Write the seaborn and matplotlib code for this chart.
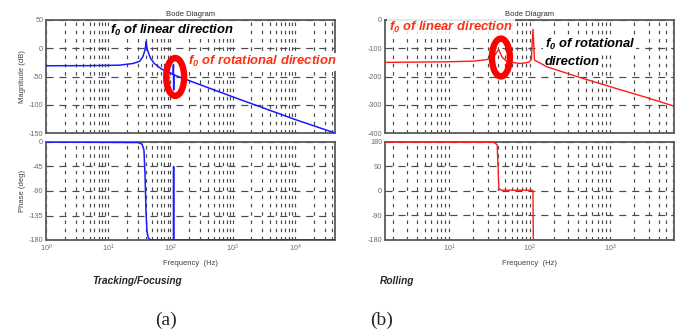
import numpy as np
import matplotlib
matplotlib.use("Agg")
import matplotlib.pyplot as plt
from matplotlib.patches import Ellipse
from matplotlib.ticker import LogLocator, NullFormatter, FixedLocator
import seaborn as sns

# ---- Tracking/Focusing actuator response ----
tf_freq = [1, 5, 15, 25, 32, 36, 38.5, 39.8, 40.8, 42, 44.5, 48, 55, 70, 90,
           110.5, 111.5, 112.5, 113.5, 140, 1000, 10000, 44000]
tf_mag = [-31, -30.8, -30, -27, -23, -15, -5, 3, 12, 0, -9, -18, -27, -36, -42,
          -46, -29, -74, -47, -51, -86, -126, -150]
tf_phase_freq = [1, 30, 35, 37.5, 39, 40.5, 42, 44, 48, 111.7, 112.3, 112.9, 44000]
tf_phase = [0, -1, -4, -15, -60, -130, -165, -176, -180, -180, -45, -180, -180]

# ---- Rolling response ----
rl_freq = [1.6, 9.4, 20.3, 29.6, 35.8, 41.2, 45.5, 52.5, 76.7, 97, 105, 110,
           115, 165, 427, 1112, 2880, 6200]
rl_mag = [-150, -148, -145.5, -140, -130, -104, -132, -148, -154, -150, -140, -33,
          -142, -166, -204, -240, -275, -305]
rl_phase_freq = [1.6, 36, 39.5, 40.5, 41.5, 44, 108, 110, 111, 112, 6200]
rl_phase = [180, 179, 170, 90, 10, 3, 3, 0, -170, -180, -180]

mag_ticks_a = [50, 0, -50, -100, -150]
phase_ticks_a = [0, -45, -90, -135, -180]
mag_ticks_b = [0, -100, -200, -300, -400]
phase_ticks_b = [180, 90, 0, -90, -180]

sns.set_theme(style="white")
plt.rcParams["font.family"] = ["Liberation Sans", "DejaVu Sans"]
plt.rcParams["axes.unicode_minus"] = False
plt.rcParams["mathtext.fontset"] = "custom"
plt.rcParams["mathtext.it"] = "Liberation Sans:bold:italic"
plt.rcParams["mathtext.rm"] = "Liberation Sans:bold:italic"
plt.rcParams["mathtext.bf"] = "Liberation Sans:bold:italic"

W, H = 694, 333
fig = plt.figure(figsize=(W / 100, H / 100), dpi=100)


def box(x0, y0, x1, y1):
    return [x0 / W, 1 - y1 / H, (x1 - x0) / W, (y1 - y0) / H]


GRID_C = "#4a4a4a"
SPINE_C = "#5a5a5a"
TICK_C = "#6a6a6a"


def style_axes(ax, xlim, ylim, yticks, show_xlabels):
    ax.set_xscale("log")
    ax.set_xlim(*xlim)
    ax.set_ylim(*ylim)
    ax.yaxis.set_major_locator(FixedLocator(yticks))
    ax.xaxis.set_major_locator(LogLocator(base=10, numticks=10))
    ax.xaxis.set_minor_locator(LogLocator(base=10, subs=np.arange(2, 10), numticks=20))
    ax.xaxis.set_minor_formatter(NullFormatter())
    if not show_xlabels:
        ax.xaxis.set_major_formatter(NullFormatter())
    ax.grid(False)
    ax.grid(True, which="major", axis="y", color=GRID_C, lw=0.85, ls=(0, (6, 5)))
    ax.grid(True, which="both", axis="x", color=GRID_C, lw=0.85, ls=(0, (3, 4)))
    ax.tick_params(axis="both", which="both", length=0, labelsize=5.2, colors=TICK_C, pad=2)
    for s in ax.spines.values():
        s.set_color(SPINE_C)
        s.set_linewidth(1.3)
        s.set_visible(True)
    ax.set_xlabel("")
    ax.set_ylabel("")


# Left: tracking/focusing
ax_am = fig.add_axes(box(46, 20, 335, 133))
ax_ap = fig.add_axes(box(46, 142, 335, 240))
# Right: rolling
ax_bm = fig.add_axes(box(385, 20, 674, 133))
ax_bp = fig.add_axes(box(385, 142, 674, 240))

BLUE = "#1a1aff"
RED = "#ff1a1a"

line_kw = dict(estimator=None, sort=False, zorder=5.5)
sns.lineplot(x=tf_freq, y=tf_mag, ax=ax_am, color=BLUE, lw=1.1, **line_kw)
sns.lineplot(x=tf_phase_freq, y=tf_phase, ax=ax_ap, color=BLUE, lw=1.1, **line_kw)
sns.lineplot(x=rl_freq, y=rl_mag, ax=ax_bm, color=RED, lw=1.0, **line_kw)
sns.lineplot(x=rl_phase_freq, y=rl_phase, ax=ax_bp, color=RED, lw=1.0, **line_kw)

style_axes(ax_am, (1, 44000), (-150, 50), mag_ticks_a, False)
style_axes(ax_ap, (1, 44000), (-180, 0), phase_ticks_a, True)
style_axes(ax_bm, (1.6, 6200), (-400, 0), mag_ticks_b, False)
style_axes(ax_bp, (1.6, 6200), (-180, 180), phase_ticks_b, True)

for ax in (ax_am, ax_bm):
    ax.set_title("Bode Diagram", fontsize=5.5, color="#303030", pad=3)
for ax in (ax_ap, ax_bp):
    ax.set_xlabel("Frequency  (Hz)", fontsize=5.5, color="#404040", labelpad=4)

ax_am.set_ylabel("Magnitude (dB)", fontsize=5.5, color="#404040", labelpad=2)
ax_ap.set_ylabel("Phase (deg)", fontsize=5.5, color="#404040", labelpad=2)

# Highlight rings around the rotational / linear resonances
ring_kw = dict(fill=False, ec="#ff0000", lw=4.6, zorder=6)
ax_am.add_patch(Ellipse((0.447, 0.496), 0.062, 0.335, transform=ax_am.transAxes, **ring_kw))
ax_bm.add_patch(Ellipse((0.401, 0.668), 0.062, 0.335, transform=ax_bm.transAxes, **ring_kw))

note_kw = dict(fontsize=9.4, fontweight="bold", style="italic", zorder=5)
white_bg = dict(fc="white", ec="none", pad=0.8)
ax_am.text(0.222, 0.905, r"$f_0$ of linear direction", transform=ax_am.transAxes,
           color="black", ha="left", va="center", bbox=white_bg, **note_kw)
ax_am.text(0.492, 0.63, r"$f_0$ of rotational direction", transform=ax_am.transAxes,
           color="#ff3010", ha="left", va="center", bbox=white_bg, **note_kw)
ax_bm.text(0.015, 0.935, r"$f_0$ of linear direction", transform=ax_bm.transAxes,
           color="#ff3010", ha="left", va="center",
           bbox=dict(fc="white", ec="none", alpha=0.85, pad=1.5), **note_kw)
ax_bm.text(0.552, 0.785, r"$f_0$ of rotational", transform=ax_bm.transAxes,
           color="black", ha="left", va="center", bbox=white_bg, **note_kw)
ax_bm.text(0.552, 0.63, "direction", transform=ax_bm.transAxes,
           color="black", ha="left", va="center", bbox=white_bg, **note_kw)

fig.text(137 / W, 1 - 281 / H, "Tracking/Focusing", fontsize=7.3, fontweight="bold",
         style="italic", ha="center", va="center")
fig.text(397 / W, 1 - 281 / H, "Rolling", fontsize=7.3, fontweight="bold",
         style="italic", ha="center", va="center")
fig.text(166 / W, 1 - 320 / H, "(a)", fontsize=14, family=["Liberation Serif"],
         ha="center", va="center")
fig.text(382 / W, 1 - 320 / H, "(b)", fontsize=14, family=["Liberation Serif"],
         ha="center", va="center")

fig.savefig("out.png", dpi=100)
